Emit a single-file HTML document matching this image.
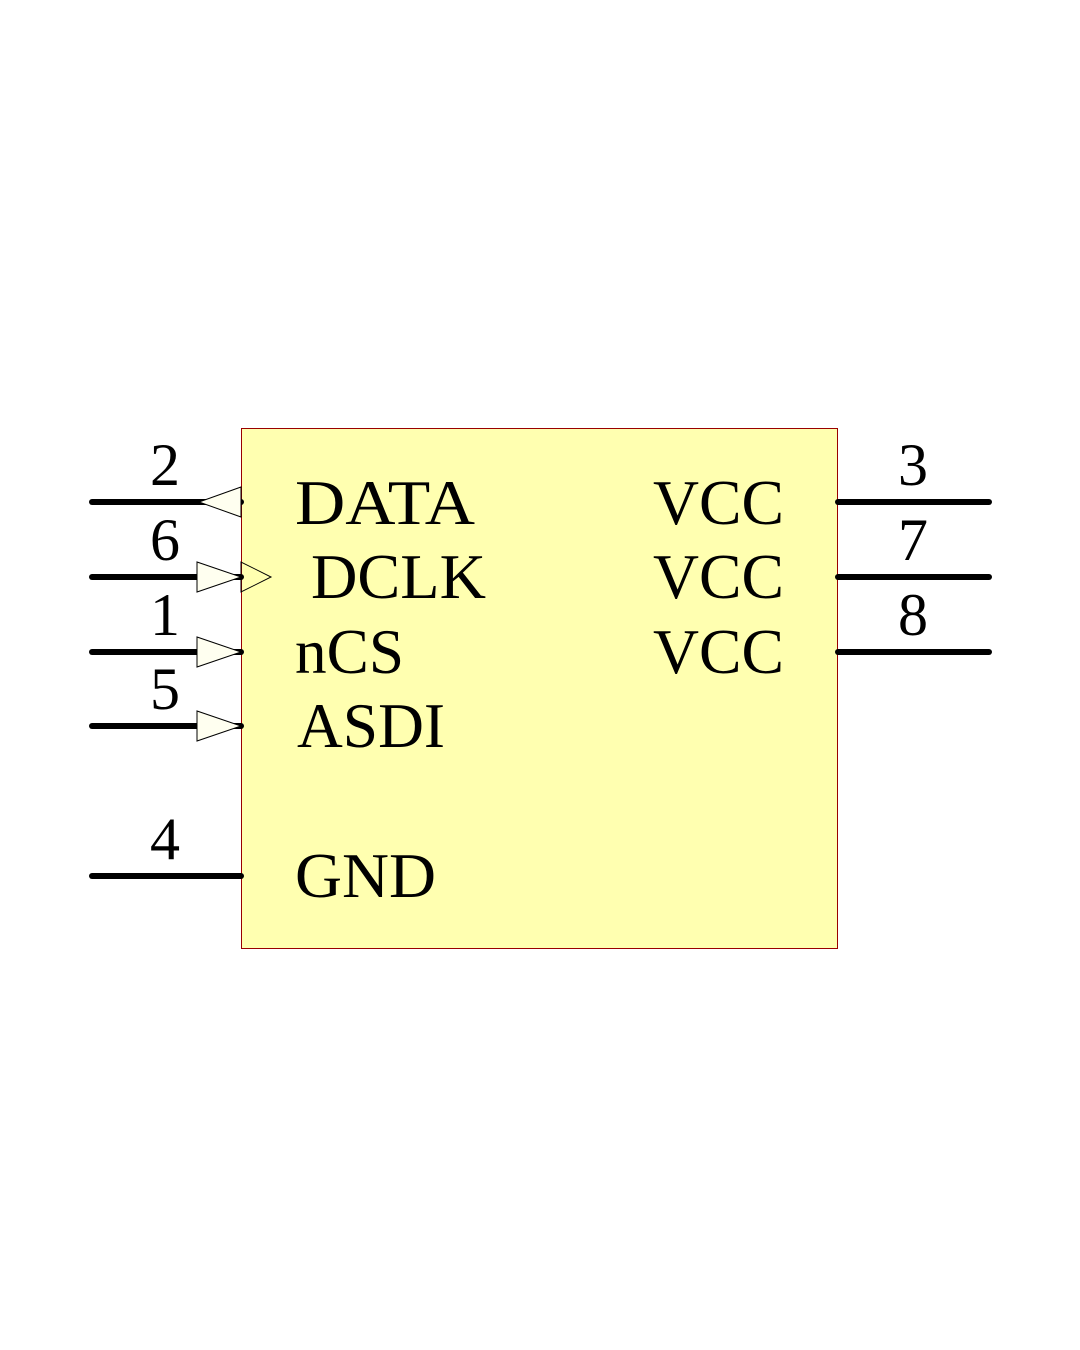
<!DOCTYPE html>
<html><head><style>html,body{margin:0;padding:0;background:#fff;}</style></head>
<body>
<svg width="1080" height="1350" xmlns="http://www.w3.org/2000/svg" style="display:block">
<rect x="241.5" y="428.5" width="596" height="520" fill="#ffffb0" stroke="#990000" stroke-width="1"/>
<g stroke="#000" stroke-width="6" stroke-linecap="round">
<line x1="92" y1="502" x2="241" y2="502"/>
<line x1="92" y1="577" x2="241" y2="577"/>
<line x1="92" y1="652" x2="241" y2="652"/>
<line x1="92" y1="726" x2="241" y2="726"/>
<line x1="92" y1="876" x2="241" y2="876"/>
<line x1="838" y1="502" x2="989" y2="502"/>
<line x1="838" y1="577" x2="989" y2="577"/>
<line x1="838" y1="652" x2="989" y2="652"/>
</g>
<g fill="#fffff0" stroke="#000" stroke-width="1">
<polygon points="241,487 241,517 199,502"/>
<polygon points="197,562 197,592 241,577"/>
<polygon points="241,562 241,592 271,577" fill="none"/>
<polygon points="197,637 197,667 241,652"/>
<polygon points="197,711 197,741 241,726"/>
</g>
<g font-family="Liberation Serif, serif" font-size="64" fill="#000" lengthAdjust="spacingAndGlyphs">
<text x="295" y="524" textLength="180" lengthAdjust="spacingAndGlyphs">DATA</text>
<text x="311" y="598" textLength="175" lengthAdjust="spacingAndGlyphs">DCLK</text>
<text x="295" y="673" textLength="109" lengthAdjust="spacingAndGlyphs">nCS</text>
<text x="297" y="747" textLength="148" lengthAdjust="spacingAndGlyphs">ASDI</text>
<text x="295" y="897" textLength="141" lengthAdjust="spacingAndGlyphs">GND</text>
<text x="653" y="524" textLength="131" lengthAdjust="spacingAndGlyphs">VCC</text>
<text x="653" y="598" textLength="131" lengthAdjust="spacingAndGlyphs">VCC</text>
<text x="653" y="673" textLength="131" lengthAdjust="spacingAndGlyphs">VCC</text>
</g>
<g font-family="Liberation Serif, serif" font-size="60" fill="#000" text-anchor="middle">
<text x="165" y="485">2</text>
<text x="165" y="560">6</text>
<text x="165" y="635">1</text>
<text x="165" y="709">5</text>
<text x="165" y="859">4</text>
<text x="913" y="485">3</text>
<text x="913" y="560">7</text>
<text x="913" y="635">8</text>
</g>
</svg>
</body></html>
